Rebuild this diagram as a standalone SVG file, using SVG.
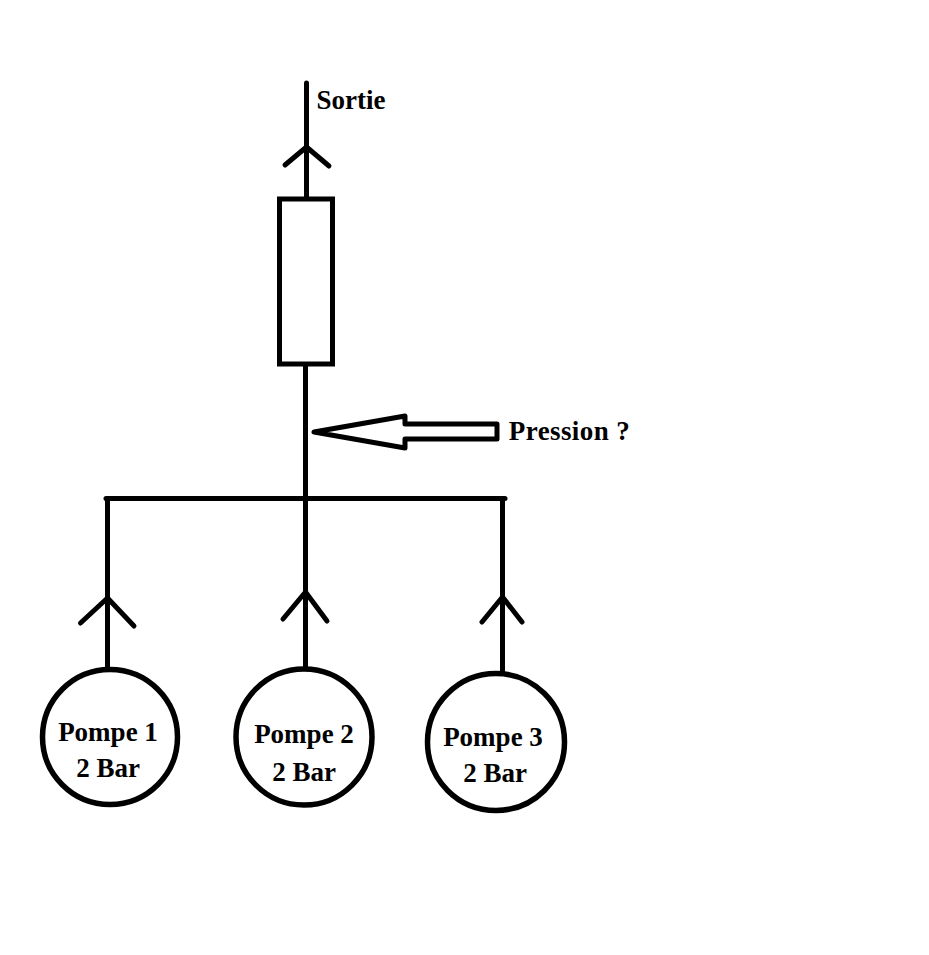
<svg xmlns="http://www.w3.org/2000/svg" width="929" height="955" viewBox="0 0 929 955">
<style>
.k{fill:none;stroke:#000;stroke-width:5;stroke-linecap:round;stroke-linejoin:round}
.c{fill:#fff;stroke:#000;stroke-width:5.500}
text{font-family:"Liberation Serif",serif;font-weight:bold;font-size:27px;fill:#000;text-anchor:middle}
</style>
<rect width="929" height="955" fill="#fff"/>
<g id="connectors">
<path class="k" d="M306.500 83V199"/>
<path class="k" d="M285 165L306.500 147L329 166"/>
<path class="k" d="M305.500 364V498"/>
<path class="k" d="M106 498.500H505"/>
<path class="k" d="M107.500 498.500V668"/>
<path class="k" d="M80.500 623L107.500 598L134 626"/>
<path class="k" d="M305.500 498.500V668"/>
<path class="k" d="M283 619L305.500 592L327 621"/>
<path class="k" d="M502.500 498.500V672"/>
<path class="k" d="M482 622L502.500 597L522 622"/>
</g>
<g id="filter"><rect x="279.500" y="199" width="53" height="165" fill="#fff" stroke="#000" stroke-width="5"/></g>
<g id="pression-arrow"><path class="k" d="M314 432L405 416V424H497V439H405V448Z"/></g>
<g id="label-sortie"><text x="351" y="109">Sortie</text></g>
<g id="label-pression"><text x="569.500" y="440" letter-spacing="0.400">Pression ?</text></g>
<g id="pompe-1"><circle class="c" cx="110" cy="737" r="67.500"/><text x="108" y="741">Pompe 1</text><text x="108" y="777">2 Bar</text></g>
<g id="pompe-2"><circle class="c" cx="304" cy="737" r="68"/><text x="304" y="743">Pompe 2</text><text x="304" y="781">2 Bar</text></g>
<g id="pompe-3"><circle class="c" cx="496" cy="742" r="68.500"/><text x="493" y="746">Pompe 3</text><text x="495" y="782">2 Bar</text></g>
</svg>
